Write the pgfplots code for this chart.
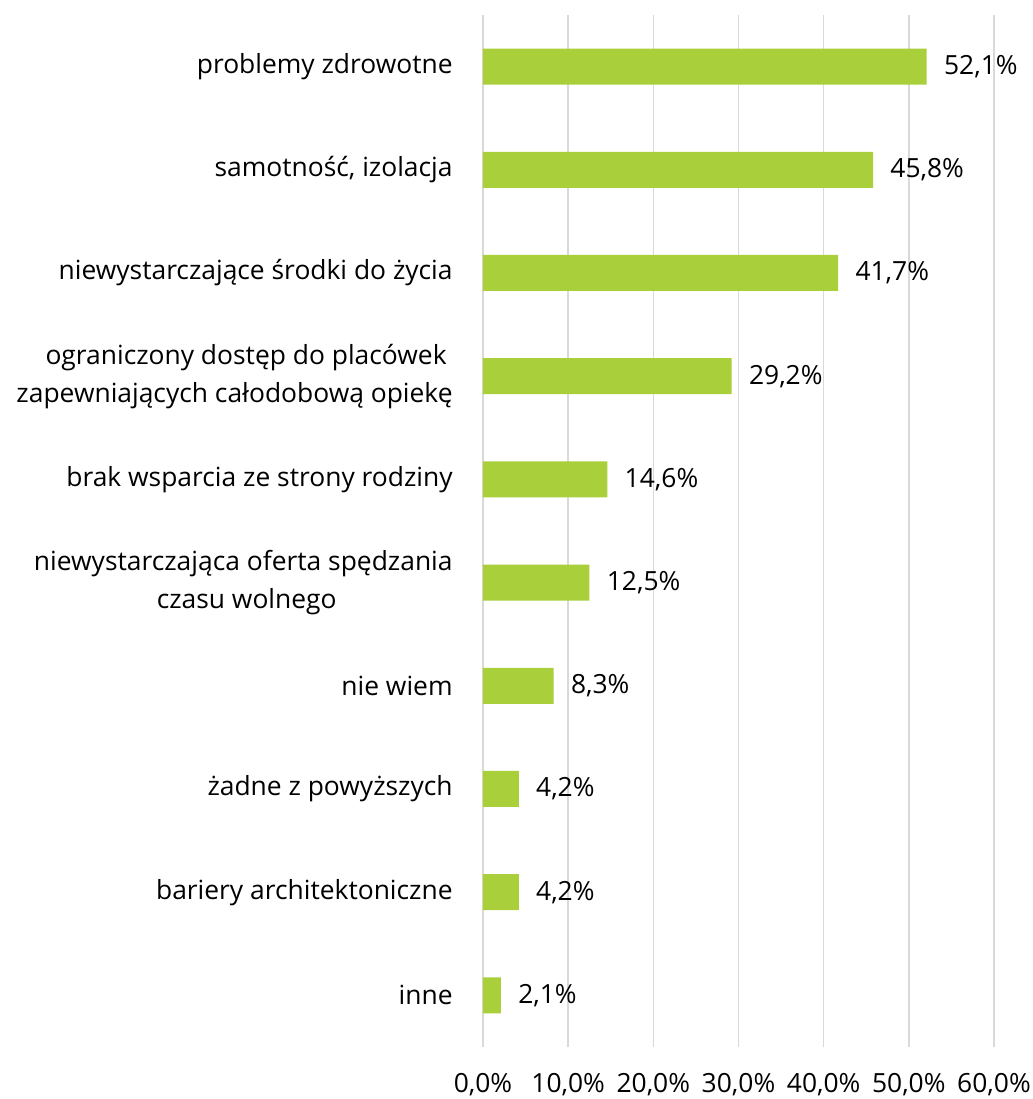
\documentclass[border=0pt]{standalone}
\usepackage{pgfplots}
\pgfplotsset{compat=1.18}
\usepackage{fontspec}
\setmainfont{Open Sans}
\definecolor{barg}{HTML}{A9D03A}
\definecolor{gridc}{HTML}{D9D9D9}
\pgfplotstableread{
y v
9 52.1
8 45.8
7 41.7
6 29.2
5 14.6
4 12.5
3 8.3
2 4.2
1 4.2
0 2.1
}\datatab
\begin{document}
\fontsize{13.2}{19}\selectfont
\begin{tikzpicture}[font=\fontsize{13.2}{19}\selectfont]
\begin{axis}[
  at={(0,0)}, anchor=south west,
  scale only axis, width=255.5pt, height=516pt,
  xmin=0, xmax=60, ymin=-0.5, ymax=9.5,
  xbar, bar width=18pt,
  axis line style={draw=none},
  major tick length=0pt,
  xmajorgrids, grid style={gridc, line width=0.75pt},
  xtick={0,10,20,30,40,50,60},
  xticklabels={{0,0\%},{10,0\%},{20,0\%},{30,0\%},{40,0\%},{50,0\%},{60,0\%}},
  xticklabel style={anchor=north, inner sep=0pt, yshift=-13pt},
  ytick={0,...,9},
  yticklabels={
    {inne},
    {bariery architektoniczne},
    {żadne z powyższych},
    {nie wiem},
    {niewystarczająca oferta spędzania\\czasu wolnego\hspace*{58pt}},
    {brak wsparcia ze strony rodziny},
    {ograniczony dostęp do placówek\hspace*{3pt}\\zapewniających całodobową opiekę},
    {niewystarczające środki do życia},
    {samotność, izolacja},
    {problemy zdrowotne}},
  yticklabel style={anchor=east, align=right, inner sep=0pt, xshift=-15pt},
  tick label style={font=\fontsize{13.2}{19}\selectfont},
  nodes near coords={\pgfmathprintnumber{\pgfplotspointmeta}\%},
  nodes near coords style={anchor=west, inner sep=0pt, xshift=8.5pt, black,
    font=\fontsize{13.2}{19}\selectfont,
    /pgf/number format/.cd, fixed, fixed zerofill, precision=1, use comma, assume math mode=true},
  /pgf/number format/assume math mode=true,
]
\addplot[fill=barg, draw=none] table[x=v, y=y] {\datatab};
\end{axis}
\pgfresetboundingbox
\useasboundingbox (-241.5pt,-26pt) rectangle (275pt,523.5pt);
\end{tikzpicture}
\end{document}
